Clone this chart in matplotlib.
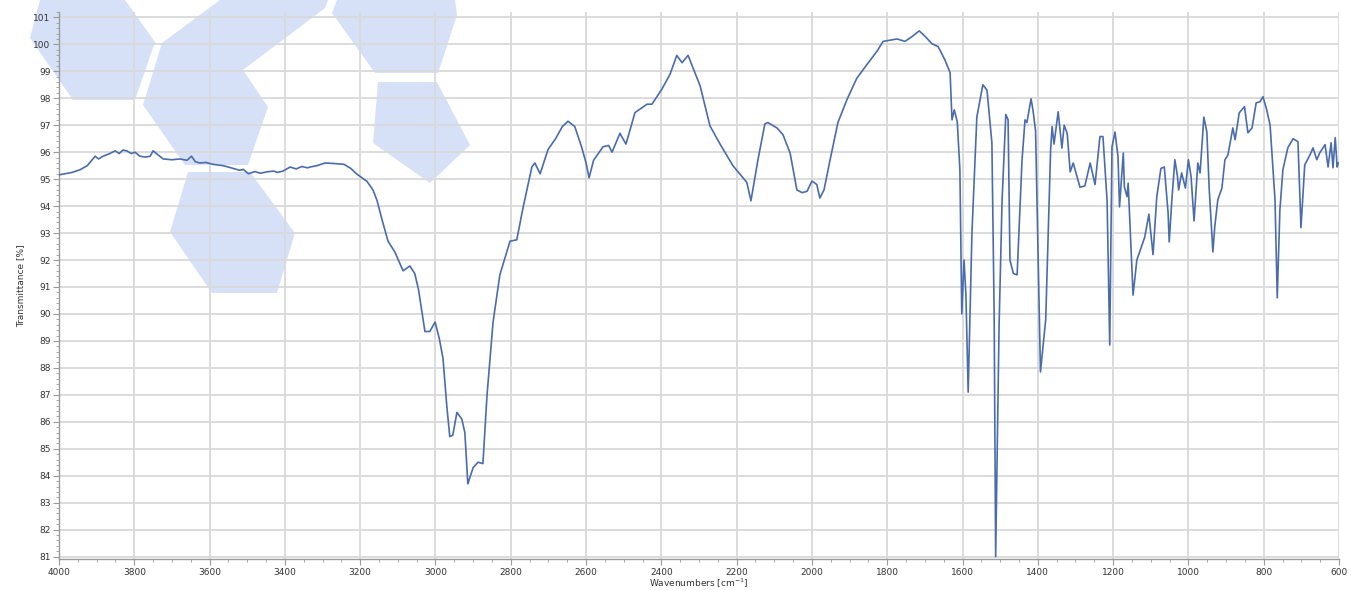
import matplotlib.pyplot as plt
from matplotlib.patches import Polygon
from matplotlib.ticker import MultipleLocator

# IR spectrum (wavenumber in cm-1, transmittance in %)
wavenumber = [
    4000, 3984, 3965, 3944, 3925, 3904, 3895, 3883, 3865, 3851, 3840, 3830, 3820, 3808, 3798,
    3785, 3770, 3758, 3750, 3737, 3723, 3700, 3679, 3660, 3648, 3638, 3626, 3610, 3591, 3575,
    3564, 3550, 3538, 3520, 3510, 3497, 3480, 3465, 3448, 3430, 3420, 3405, 3386, 3370, 3355,
    3340, 3333, 3315, 3293, 3270, 3243, 3225, 3210, 3195, 3182, 3166, 3155, 3142, 3126, 3108,
    3086, 3068, 3055, 3045, 3028, 3015, 3001, 2990, 2980, 2970, 2962, 2954, 2943, 2930, 2922,
    2914, 2900, 2887, 2874, 2863, 2847, 2829, 2802, 2784, 2768, 2744, 2736, 2722, 2701, 2681,
    2663, 2648, 2630, 2612, 2600, 2592, 2580, 2555, 2540, 2531, 2510, 2494, 2470, 2438, 2425,
    2399, 2377, 2359, 2345, 2329, 2297, 2271, 2244, 2210, 2173, 2162, 2143, 2125, 2117, 2093,
    2077, 2058, 2040, 2026, 2013, 2000, 1987, 1979, 1968, 1952, 1931, 1907, 1881, 1854, 1827,
    1811, 1774, 1753, 1734, 1715, 1699, 1681, 1665, 1647, 1633, 1628, 1622, 1614, 1607, 1602,
    1596, 1591, 1585, 1575, 1562, 1546, 1535, 1522, 1516, 1512, 1503, 1495, 1485, 1479, 1474,
    1465, 1455, 1442, 1434, 1429, 1418, 1413, 1406, 1393, 1379, 1366, 1362, 1357, 1346, 1336,
    1330, 1322, 1314, 1306, 1288, 1275, 1261, 1248, 1235, 1227, 1216, 1209, 1203, 1195, 1187,
    1183, 1173, 1170, 1163, 1160, 1147, 1137, 1116, 1105, 1094, 1084, 1073, 1064, 1054, 1051,
    1044, 1036, 1029, 1026, 1018, 1008, 1000, 993, 985, 975, 969, 959, 951, 945, 935,
    930, 922, 911, 903, 895, 882, 876, 865, 851, 842, 831, 820, 810, 802, 792,
    783, 770, 764, 757, 749, 736, 722, 709, 701, 691, 677, 669, 659, 651, 637,
    629, 621, 616, 610, 605, 602,
]
transmittance = [
    95.16, 95.2, 95.25, 95.35, 95.5, 95.85, 95.75, 95.85, 95.95, 96.05, 95.95, 96.08, 96.05, 95.95, 96.0,
    95.85, 95.82, 95.85, 96.05, 95.9, 95.75, 95.72, 95.75, 95.7, 95.85, 95.65, 95.6, 95.62, 95.55, 95.52,
    95.5, 95.45, 95.4, 95.33, 95.36, 95.2, 95.28, 95.22, 95.27, 95.3, 95.25, 95.3, 95.45, 95.38, 95.47,
    95.42, 95.45, 95.5, 95.6, 95.58, 95.55, 95.4, 95.2, 95.05, 94.92, 94.6, 94.2, 93.5, 92.7, 92.3,
    91.6, 91.78, 91.5, 90.9, 89.35, 89.35, 89.7, 89.1, 88.35, 86.6, 85.45, 85.5, 86.35, 86.1, 85.6,
    83.7, 84.3, 84.5, 84.45, 87.0, 89.7, 91.45, 92.7, 92.75, 93.9, 95.45, 95.6, 95.2, 96.1, 96.5,
    96.95, 97.15, 96.95, 96.2, 95.6, 95.05, 95.7, 96.2, 96.25, 96.0, 96.7, 96.3, 97.47, 97.78, 97.78,
    98.33, 98.89, 99.59, 99.32, 99.59, 98.46, 96.98, 96.3, 95.5, 94.88, 94.2, 95.75, 97.05, 97.1, 96.9,
    96.65, 95.97, 94.6, 94.5, 94.55, 94.93, 94.8, 94.3, 94.6, 95.7, 97.1, 97.95, 98.74, 99.25, 99.75,
    100.11, 100.2, 100.11, 100.29, 100.5, 100.29, 100.02, 99.92, 99.43, 98.95, 97.2, 97.57, 97.13, 95.35, 90.0,
    92.0, 90.7, 87.1, 93.0, 97.3, 98.5, 98.3, 96.35, 90.0, 81.0, 89.5, 94.2, 97.4, 97.2, 92.0,
    91.5, 91.45, 95.7, 97.2, 97.1, 97.98, 97.57, 96.8, 87.85, 89.8, 96.1, 96.95, 96.3, 97.5, 96.15,
    97.0, 96.7, 95.27, 95.6, 94.7, 94.75, 95.6, 94.8, 96.58, 96.58, 94.2, 88.85, 96.2, 96.75, 95.83,
    93.97, 95.97, 94.7, 94.35, 94.85, 90.7, 92.0, 92.85, 93.7, 92.2, 94.35, 95.4, 95.45, 93.75, 92.67,
    94.23, 95.72, 95.1, 94.6, 95.23, 94.67, 95.72, 95.1, 93.45, 95.6, 95.23, 97.3, 96.75, 94.7, 92.3,
    93.23, 94.23, 94.67, 95.72, 95.9, 96.9, 96.46, 97.46, 97.69, 96.72, 96.9, 97.83, 97.87, 98.06, 97.57,
    97.0, 94.23, 90.6, 93.86, 95.35, 96.16, 96.5, 96.39, 93.2, 95.53, 95.9, 96.16, 95.72, 95.98, 96.28,
    95.45, 96.35, 95.42, 96.54, 95.45, 95.6,
]

W, H = 1351, 590
fig = plt.figure(figsize=(W / 100, H / 100), dpi=100)
ax = fig.add_axes([59 / W, 1 - 559.3 / H, 1280 / W, 547.3 / H])
ax.set_facecolor('none')

# light blue watermark shapes behind the plot (figure pixels, top-left origin)
shapes = [
    [(40, 0), (125, 0), (155, 42), (135, 100), (73, 100), (30, 38)],
    [(162, 43), (220, 0), (328, 0), (325, 8), (243, 70), (268, 107), (248, 165), (185, 165), (143, 105)],
    [(188, 172), (250, 172), (295, 233), (277, 293), (212, 293), (170, 232)],
    [(332, 13), (337, 0), (455, 0), (457, 15), (438, 73), (375, 73)],
    [(378, 82), (437, 82), (470, 145), (430, 183), (373, 143)],
]
for pts in shapes:
    fig.patches.append(Polygon([(x / W, 1 - y / H) for x, y in pts], closed=True,
                               transform=fig.transFigure, facecolor='#d6e1f8',
                               edgecolor='none', zorder=-1))

ax.plot(wavenumber, transmittance, color='#4a6cad', lw=1.2, zorder=3)

ax.set_xlim(4000, 600)
ax.set_ylim(80.9, 101.2)
ax.xaxis.set_major_locator(MultipleLocator(200))
ax.xaxis.set_minor_locator(MultipleLocator(50))
ax.yaxis.set_major_locator(MultipleLocator(1))
ax.yaxis.set_minor_locator(MultipleLocator(0.2))
ax.grid(True, which='major', color='#d9d9d9', lw=1.3, zorder=1)
ax.set_axisbelow(True)

for s in ['top', 'right']:
    ax.spines[s].set_visible(False)
for s in ['left', 'bottom']:
    ax.spines[s].set_color('#9a9a9a')
    ax.spines[s].set_linewidth(1.0)

ax.tick_params(which='major', length=4, width=0.8, color='#9a9a9a',
               labelsize=6.5, labelcolor='#333333', pad=2)
ax.tick_params(which='minor', length=2, width=0.6, color='#9a9a9a')

ax.set_xlabel('Wavenumbers [cm$^{-1}$]', fontsize=6.5, color='#333333', labelpad=0)
ax.set_ylabel('Transmittance [%]', fontsize=6.5, color='#333333', labelpad=6)

fig.savefig('out.png', dpi=100)
